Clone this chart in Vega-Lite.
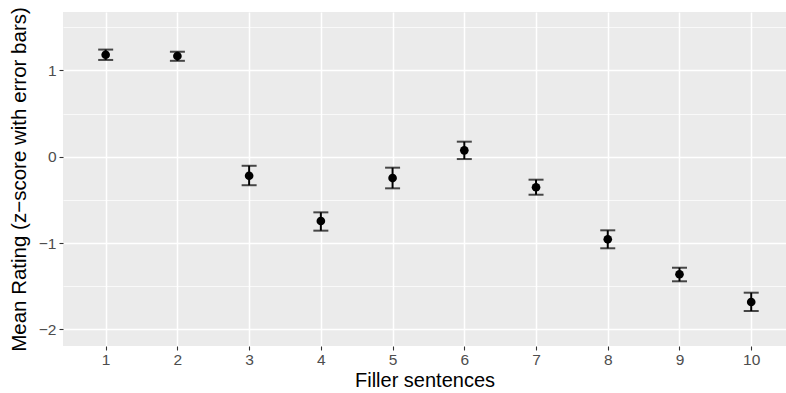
{
  "$schema": "https://vega.github.io/schema/vega-lite/v6.json",
  "width": 723,
  "height": 334,
  "autosize": {"type": "none"},
  "padding": {"left": 63, "top": 12, "right": 0, "bottom": 47},
  "background": "white",
  "config": {
    "view": {"fill": "#EBEBEB", "stroke": null},
    "font": "Liberation Sans",
    "axis": {
      "domain": false,
      "gridColor": "white",
      "tickColor": "#333333",
      "tickSize": 4,
      "tickWidth": 1.1,
      "labelColor": "#4D4D4D",
      "labelFont": "Liberation Sans",
      "titleFont": "Liberation Sans",
      "titleFontWeight": "normal",
      "titleColor": "black"
    }
  },
  "data": {
    "values": [
      {"sentence": 1, "mean": 1.18, "lo": 1.12, "hi": 1.24},
      {"sentence": 2, "mean": 1.165, "lo": 1.11, "hi": 1.215},
      {"sentence": 3, "mean": -0.22, "lo": -0.33, "hi": -0.105},
      {"sentence": 4, "mean": -0.744, "lo": -0.856, "hi": -0.644},
      {"sentence": 5, "mean": -0.247, "lo": -0.366, "hi": -0.127},
      {"sentence": 6, "mean": 0.074, "lo": -0.027, "hi": 0.174},
      {"sentence": 7, "mean": -0.354, "lo": -0.44, "hi": -0.266},
      {"sentence": 8, "mean": -0.956, "lo": -1.06, "hi": -0.852},
      {"sentence": 9, "mean": -1.361, "lo": -1.442, "hi": -1.285},
      {"sentence": 10, "mean": -1.682, "lo": -1.786, "hi": -1.574}
    ]
  },
  "encoding": {
    "x": {
      "field": "sentence",
      "type": "quantitative",
      "scale": {"domain": [0.405, 10.485], "nice": false, "zero": false},
      "axis": {
        "title": "Filler sentences",
        "values": [1, 2, 3, 4, 5, 6, 7, 8, 9, 10],
        "format": "d",
        "grid": true,
        "gridWidth": 1.5,
        "labelFontSize": 15.5,
        "titleFontSize": 20,
        "labelPadding": 2,
        "titlePadding": 3
      }
    }
  },
  "layer": [
    {
      "mark": {"type": "errorbar", "ticks": {"size": 15, "thickness": 2, "color": "black"}, "rule": {"strokeWidth": 2, "color": "black"}},
      "encoding": {
        "y": {
          "field": "lo",
          "type": "quantitative",
          "scale": {"domain": [-2.191, 1.675], "nice": false, "zero": false},
          "axis": {
            "title": "Mean Rating (z−score with error bars)",
            "values": [-2, -1.5, -1, -0.5, 0, 0.5, 1, 1.5],
            "grid": true,
            "gridWidth": {"condition": {"test": "datum.value % 1 === 0", "value": 1.5}, "value": 0.7},
            "tickOpacity": {"condition": {"test": "datum.value % 1 === 0", "value": 1}, "value": 0},
            "labelExpr": "datum.value % 1 === 0 ? replace(format(datum.value, 'd'), '-', '−') : ''",
            "labelFontSize": 15.5,
            "titleFontSize": 20.5,
            "labelPadding": 3,
            "titlePadding": 9
          }
        },
        "y2": {"field": "hi"}
      }
    },
    {
      "mark": {"type": "point", "filled": true, "color": "black", "opacity": 1, "size": 75},
      "encoding": {
        "y": {"field": "mean", "type": "quantitative"}
      }
    }
  ]
}
